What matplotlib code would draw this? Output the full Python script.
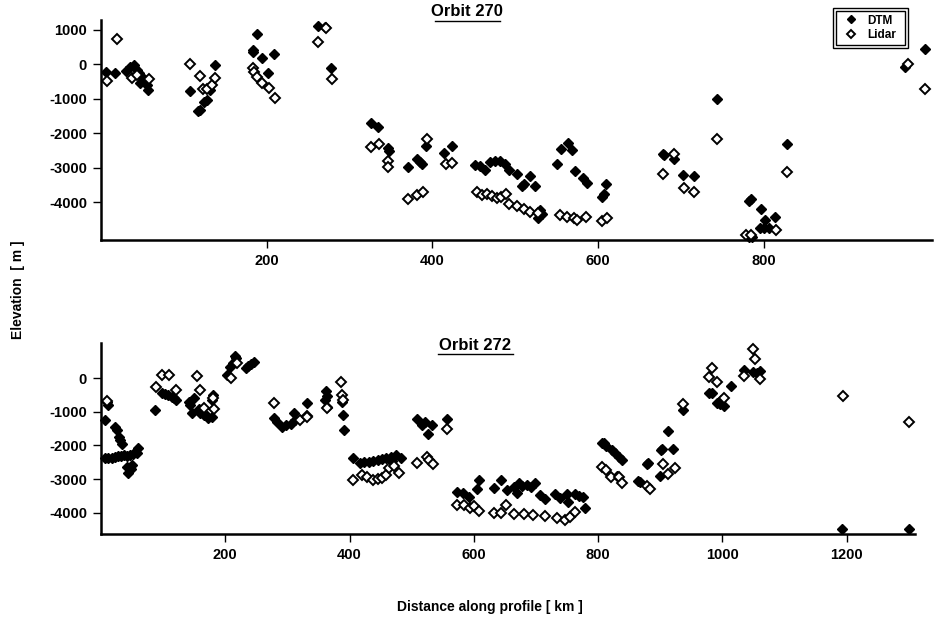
import matplotlib
matplotlib.use('Agg')
import matplotlib.pyplot as plt
from matplotlib.lines import Line2D
from matplotlib.patches import Rectangle

plt.rcParams['font.family'] = ['Liberation Sans', 'DejaVu Sans']
plt.rcParams['font.weight'] = 'bold'
plt.rcParams['axes.unicode_minus'] = False

# Orbit 270 - DTM
o270_dtm_km = [6, 17, 30, 35, 40, 43, 46, 49, 52, 47, 55, 57,
               107, 117, 119, 124, 128, 132, 137,
               183, 184, 188, 194, 202, 209,
               262, 270, 278,
               326, 334, 346, 348, 370, 381, 385, 388, 392, 414, 424,
               452, 458, 464, 470, 476, 482, 488, 493, 502, 508, 511, 518, 524, 527, 530, 532,
               550, 555, 564, 569, 572, 582, 586, 605, 607, 610,
               678, 679, 691, 703, 716, 743,
               782, 784, 797, 802, 813, 795, 800, 806, 782, 786,
               828, 971, 994]
o270_dtm_elev = [-220, -250, -200, -80, -30, -150, -250, -380, -450, -540, -600, -730,
                 -780, -1360, -1330, -1100, -1020, -750, -30,
                 430, 360, 890, 180, -250, 310,
                 1130, 1100, -90,
                 -1690, -1820, -2430, -2510, -2980, -2760, -2830, -2900, -2380, -2560, -2360,
                 -2910, -2950, -3070, -2830, -2800, -2810, -2880, -3070, -3170, -3540, -3460, -3250, -3540, -4470, -4230, -4350,
                 -2880, -2470, -2270, -2490, -3090, -3310, -3440, -3850, -3750, -3480,
                 -2590, -2640, -2760, -3200, -3240, -1005,
                 -3970, -3900, -4210, -4520, -4440, -4750, -4750, -4750, -5000, -5000,
                 -2300, -80, 455]

# Orbit 270 - Lidar
o270_lid_km = [7, 19, 37, 44, 58,
               108, 119, 123, 128, 134, 138,
               183, 185, 188, 194, 203, 210,
               262, 272, 279,
               326, 335, 346, 347, 371, 381, 389, 393, 416, 424,
               454, 460, 466, 472, 478, 483, 489, 493, 502, 510, 518, 527,
               554, 562, 571, 575, 585, 605, 611,
               678, 692, 704, 716, 744,
               778, 784, 815, 828, 974, 994]
o270_lid_elev = [-490, 725, -400, -300, -415,
                 20, -350, -725, -725, -600, -400,
                 -100, -230, -370, -540, -690, -965,
                 640, 1050, -435,
                 -2400, -2320, -2800, -2980, -3900, -3780, -3710, -2155, -2900, -2860,
                 -3700, -3800, -3760, -3830, -3890, -3850, -3750, -4060, -4120, -4200, -4280, -4330,
                 -4380, -4420, -4470, -4520, -4420, -4550, -4470,
                 -3170, -2590, -3600, -3720, -2155,
                 -4950, -4950, -4810, -3120, 20, -700]

# Orbit 272 - DTM
o272_dtm_km = [7, 10, 11, 23, 26, 29, 31, 33,
               7, 12, 17, 22, 27, 32, 37, 42, 47, 52, 58, 60, 42, 44, 48, 50,
               87, 98, 103, 108, 114, 118, 120,
               141, 144, 149, 146, 157, 160, 165, 170, 173, 178, 181, 179,
               203, 208, 212, 216, 218, 233, 237, 241, 246,
               278, 284, 291, 298, 305, 310, 313, 331,
               362, 361, 364, 363, 388, 389, 391,
               406, 417, 424, 431, 438, 445, 452, 459, 466, 474, 482, 468,
               508, 516, 527, 533, 522, 557,
               573, 582, 592, 605, 609, 632, 643, 653, 664, 669, 672, 678, 686, 692, 699,
               707, 715, 731, 738, 750, 752, 763, 770, 776, 779,
               806, 809, 813, 823, 828, 833, 838, 831,
               865, 867, 878, 881, 899, 901, 903, 912, 921, 936,
               978, 983, 991, 996, 1002, 998, 1014, 1034, 1049, 1055, 1061, 1193, 1300]
o272_dtm_elev = [-1240, -700, -800, -1440, -1550, -1750, -1840, -1950,
                 -2380, -2380, -2370, -2340, -2300, -2320, -2280, -2300, -2270, -2260, -2230, -2080, -2630, -2830, -2700, -2580,
                 -940, -450, -480, -510, -550, -580, -640,
                 -700, -800, -600, -1040, -920, -1050, -1090, -1120, -1190, -1150, -500, -640,
                 100, 330, 450, 660, 580, 300, 350, 420, 490,
                 -1190, -1300, -1440, -1390, -1360, -1040, -1250, -730,
                 -380, -650, -850, -520, -700, -1090, -1540,
                 -2380, -2530, -2500, -2480, -2470, -2420, -2400, -2380, -2330, -2280, -2380, -2450,
                 -1220, -1390, -1670, -1390, -1320, -1220,
                 -3380, -3420, -3520, -3300, -3030, -3270, -3030, -3330, -3230, -3420, -3130, -3200, -3180, -3240, -3110,
                 -3470, -3600, -3440, -3560, -3440, -3690, -3440, -3500, -3520, -3870,
                 -1920, -1940, -2020, -2150, -2230, -2330, -2430, -2900,
                 -3050, -3100, -2550, -2530, -2900, -2150, -2100, -1560, -2100, -960,
                 -430, -430, -730, -780, -820, -650, -250, 230, 170, 150, 200, -4490, -4490]

# Orbit 272 - Lidar
o272_lid_km = [9, 88, 98, 109, 120, 154, 159, 165, 182, 180,
               210, 219, 278, 321, 331, 332, 364, 387, 388, 390,
               406, 420, 428, 438, 446, 452, 459, 464, 472, 480,
               509, 524, 528, 535, 557,
               573, 584, 594, 600, 608, 632, 643, 651,
               664, 680, 696, 715, 734, 747, 755, 763,
               806, 812, 820, 833, 838, 879, 883, 904, 913, 923,
               937, 979, 984, 992, 1002, 1035, 1049, 1053, 1061, 1194, 1301]
o272_lid_elev = [-680, -270, 80, 80, -350, 50, -350, -890, -920, -600,
                 0, 450, -730, -1240, -1140, -1160, -880, -130, -500, -650,
                 -3030, -2880, -2950, -3030, -3000, -2970, -2880, -2680, -2600, -2830,
                 -2510, -2330, -2420, -2550, -1510,
                 -3770, -3780, -3870, -3800, -3940, -4000, -4000, -3770,
                 -4040, -4040, -4060, -4100, -4150, -4220, -4130, -3970,
                 -2630, -2720, -2930, -2930, -3110, -3200, -3300, -2550, -2860, -2660,
                 -770, 20, 300, -130, -600, 70, 870, 570, -30, -520, -1310]

W, H = 937, 623
fig = plt.figure(figsize=(W / 100, H / 100), dpi=100)

def px_axes(l, t, r, b):
    return fig.add_axes([l / W, 1 - b / H, (r - l) / W, (b - t) / H])

ax1 = px_axes(101, 20, 932, 240)
ax2 = px_axes(101, 343, 915, 534)

ms = 4.8
for ax, dk, de, lk, le in [(ax1, o270_dtm_km, o270_dtm_elev, o270_lid_km, o270_lid_elev),
                           (ax2, o272_dtm_km, o272_dtm_elev, o272_lid_km, o272_lid_elev)]:
    ax.plot(dk, de, 'D', ms=ms, mfc='black', mec='black', mew=1, ls='none', clip_on=False)
    ax.plot(lk, le, 'D', ms=ms, mfc='white', mec='black', mew=1.4, ls='none', clip_on=False)
    for s in ['top', 'right']:
        ax.spines[s].set_visible(False)
    for s in ['left', 'bottom']:
        ax.spines[s].set_linewidth(1.8)
    ax.tick_params(direction='out', length=6, width=1, labelsize=10.5, pad=4)

ax1.set_xlim(0, 1003)
ax1.set_ylim(-5100, 1290)
ax1.set_xticks([200, 400, 600, 800])
ax1.set_yticks([-4000, -3000, -2000, -1000, 0, 1000])

ax2.set_xlim(0, 1310)
ax2.set_ylim(-4630, 1040)
ax2.set_xticks([200, 400, 600, 800, 1000, 1200])
ax2.set_yticks([-4000, -3000, -2000, -1000, 0])

for ax in (ax1, ax2):
    for lab in ax.get_xticklabels() + ax.get_yticklabels():
        lab.set_fontweight('bold')

# titles with underline
fig.text(467 / W, 1 - 11 / H, 'Orbit 270', ha='center', va='center', fontsize=12, fontweight='bold')
fig.add_artist(Line2D([435 / W, 500 / W], [1 - 21 / H, 1 - 21 / H], color='black', lw=1))
fig.text(475 / W, 1 - 345 / H, 'Orbit 272', ha='center', va='center', fontsize=12, fontweight='bold')
fig.add_artist(Line2D([438 / W, 513 / W], [1 - 354 / H, 1 - 354 / H], color='black', lw=1))

fig.text(18 / W, 1 - 290 / H, 'Elevation  [ m ]', rotation=90, ha='center', va='center',
         fontsize=10, fontweight='bold')
fig.text(490 / W, 1 - 607 / H, 'Distance along profile [ km ]', ha='center', va='center',
         fontsize=10, fontweight='bold')

# legend with double frame
h_dtm = Line2D([], [], marker='D', ms=4.5, mfc='black', mec='black', ls='none')
h_lid = Line2D([], [], marker='D', ms=4.5, mfc='white', mec='black', mew=1.4, ls='none')
leg = fig.legend([h_dtm, h_lid], ['DTM', 'Lidar'], loc='center',
                 bbox_to_anchor=(870 / W, 1 - 28 / H), frameon=False,
                 handlelength=1.2, handletextpad=0.7, labelspacing=0.25,
                 prop={'weight': 'bold', 'size': 8.5})
fig.add_artist(Rectangle((833 / W, 1 - 48 / H), 75 / W, 40 / H, transform=fig.transFigure,
                         fill=False, ec='black', lw=1.0))
fig.add_artist(Rectangle((836 / W, 1 - 45 / H), 69 / W, 34 / H, transform=fig.transFigure,
                         fill=False, ec='black', lw=1.0))

fig.savefig('out.png', dpi=100)
